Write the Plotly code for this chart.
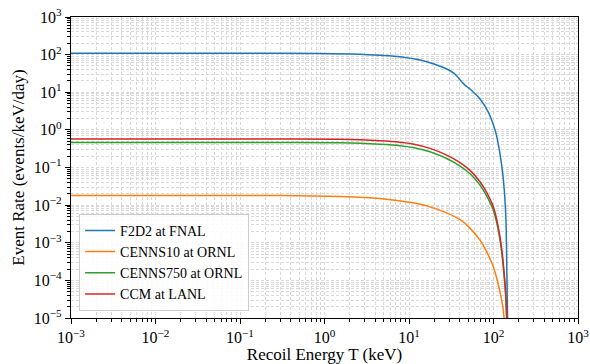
import plotly.graph_objects as go

# Data (T in keV, rate in events/keV/day)
f2d2_T = [1e-3, 0.297, 0.885, 2.63, 4.54, 7.82, 12.3, 17.7, 23.3, 30.6, 35.0, 42.0, 46.0, 52.7, 69.2, 86.8, 104.2, 111.0, 125.0, 134.2, 140.6, 144.5, 146.6, 147.5]
f2d2_R = [108, 108, 107, 102, 95.7, 88, 75, 61, 48.9, 37.3, 30.5, 19.0, 15.5, 12.2, 6.6, 2.97, 1.0, 0.57, 0.116, 0.025, 0.0035, 8.4e-5, 1e-5, 1e-6]

cenns10_T = [1e-3, 0.297, 1.52, 4.54, 11.1, 17.7, 27.9, 40.2, 52.7, 69.2, 83.2, 99.5, 125.0, 133.0, 134.0]
cenns10_R = [0.0181, 0.0181, 0.0170, 0.0151, 0.0115, 0.0090, 0.00624, 0.00411, 0.00245, 0.00117, 5.73e-4, 2.29e-4, 2.97e-5, 1.07e-5, 1e-6]

cenns750_T = [1e-3, 0.297, 1.52, 4.54, 7.82, 11.1, 17.7, 27.9, 40.2, 52.7, 69.2, 83.2, 99.5, 119.4, 136.8, 143.0, 143.5]
cenns750_R = [0.459, 0.459, 0.452, 0.415, 0.381, 0.340, 0.262, 0.173, 0.109, 0.068, 0.034, 0.0174, 0.00736, 0.00117, 7.0e-5, 1e-5, 1e-6]

ccm_T = [1e-3, 0.297, 1.52, 4.54, 7.82, 11.1, 17.7, 27.9, 40.2, 52.7, 69.2, 83.2, 99.5, 119.4, 136.8, 143.3, 144.0]
ccm_R = [0.569, 0.569, 0.56, 0.513, 0.470, 0.420, 0.322, 0.214, 0.135, 0.084, 0.0417, 0.0215, 0.0090, 0.00144, 8.4e-5, 1.07e-5, 1e-6]

names = ["F2D2 at FNAL", "CENNS10 at ORNL", "CENNS750 at ORNL", "CCM at LANL"]
colors = ["#1f77b4", "#ff7f0e", "#2ca02c", "#d62728"]
series = [(f2d2_T, f2d2_R), (cenns10_T, cenns10_R), (cenns750_T, cenns750_R), (ccm_T, ccm_R)]

x_tickvals = [1e-3, 1e-2, 1e-1, 1e0, 1e1, 1e2, 1e3]
x_ticktext = ["10<sup>\u22123</sup>", "10<sup>\u22122</sup>", "10<sup>\u22121</sup>", "10<sup>0</sup>",
              "10<sup>1</sup>", "10<sup>2</sup>", "10<sup>3</sup>"]
y_tickvals = [1e-5, 1e-4, 1e-3, 1e-2, 1e-1, 1e0, 1e1, 1e2, 1e3]
y_ticktext = ["10<sup>\u22125</sup>", "10<sup>\u22124</sup>", "10<sup>\u22123</sup>", "10<sup>\u22122</sup>",
              "10<sup>\u22121</sup>", "10<sup>0</sup>", "10<sup>1</sup>", "10<sup>2</sup>", "10<sup>3</sup>"]

fig = go.Figure()
for (T, R), n, c in zip(series, names, colors):
    fig.add_trace(go.Scatter(x=T, y=R, mode="lines", name=n,
                             line=dict(color=c, width=1.5, shape="spline", smoothing=0.8)))

font_family = "Liberation Serif, Times New Roman, serif"
grid_color = "#d9d9d9"

axis_common = dict(
    type="log", showline=True, linecolor="black", linewidth=1.2, mirror=True,
    ticks="outside", ticklen=5, tickcolor="black", tickwidth=1,
    showgrid=True, gridcolor=grid_color, griddash="3px,2px", gridwidth=0.8,
    zeroline=False, automargin=False,
    tickfont=dict(family=font_family, size=16, color="black"),
    minor=dict(dtick="D1", ticks="outside", ticklen=2.5, tickcolor="black", tickwidth=0.8,
               showgrid=True, gridcolor=grid_color, griddash="3px,2px", gridwidth=0.8),
)

fig.update_xaxes(**axis_common, range=[-3, 3], tickmode="array",
                 tickvals=x_tickvals, ticktext=x_ticktext, ticklabelstandoff=0,
                 title=dict(text="Recoil Energy T (keV)", standoff=2,
                            font=dict(family=font_family, size=17, color="black")))
fig.update_yaxes(**axis_common, range=[-5, 3], tickmode="array",
                 tickvals=y_tickvals, ticktext=y_ticktext,
                 title=dict(text="Event Rate (events/keV/day)", standoff=4,
                            font=dict(family=font_family, size=17, color="black")))

fig.update_layout(
    width=590, height=364,
    margin=dict(l=71, r=12, t=17, b=46),
    paper_bgcolor="white", plot_bgcolor="white",
    showlegend=True,
    legend=dict(x=0.016, y=0.024, xanchor="left", yanchor="bottom",
                bgcolor="rgba(255,255,255,0.85)", bordercolor="#cccccc", borderwidth=1,
                font=dict(family=font_family, size=14, color="black"),
                tracegroupgap=0),
)

fig.write_html("out.html")
